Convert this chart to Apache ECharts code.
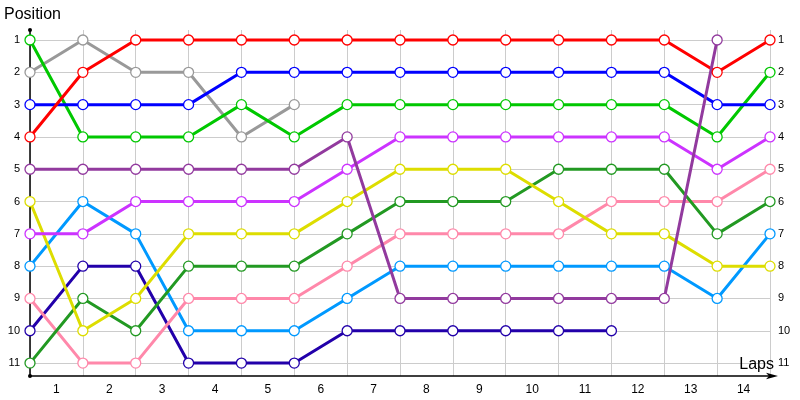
<!DOCTYPE html>
<html><head><meta charset="utf-8">
<script src="https://cdn.jsdelivr.net/npm/echarts@6/dist/echarts.min.js"></script>
<style>html,body{margin:0;padding:0;background:#fff}#c{width:800px;height:400px}</style>
</head><body><div id="c"></div>
<script>
var lapLabels = ['1','2','3','4','5','6','7','8','9','10','11','12','13','14'];
var positionLabels = [1,2,3,4,5,6,7,8,9,10,11];
// positions at each lap boundary (0..14); shorter list = retired
var gray      = [2,1,2,2,4,3];
var navy      = [10,8,8,11,11,11,10,10,10,10,10,10];
var lightBlue = [8,6,7,10,10,10,9,8,8,8,8,8,8,9,7];
var pink      = [9,11,11,9,9,9,8,7,7,7,7,6,6,6,5];
var darkGreen = [11,9,10,8,8,8,7,6,6,6,5,5,5,7,6];
var yellow    = [6,10,9,7,7,7,6,5,5,5,6,7,7,8,8];
var violet    = [7,7,6,6,6,6,5,4,4,4,4,4,4,5,4];
var green     = [1,4,4,4,3,4,3,3,3,3,3,3,3,4,2];
var blue      = [3,3,3,3,2,2,2,2,2,2,2,2,2,3,3];
var red       = [4,2,1,1,1,1,1,1,1,1,1,1,1,2,1];
var purple    = [5,5,5,5,5,5,4,9,9,9,9,9,9,1];

var drivers = [
  {d: gray, c:'#999999'},
  {d: navy, c:'#2200aa'},
  {d: lightBlue, c:'#0099ff'},
  {d: pink, c:'#ff88aa'},
  {d: darkGreen, c:'#229922'},
  {d: yellow, c:'#dddd00'},
  {d: violet, c:'#cc33ff'},
  {d: green, c:'#00c800'},
  {d: blue, c:'#0000ff'},
  {d: red, c:'#ff0000'},
  {d: purple, c:'#923a9e'}
];

var series = drivers.map(function(o){
  return {
    type:'line',
    data:o.d.map(function(v,i){return [i,v];}),
    symbol:'circle', symbolSize:10, showSymbol:true,
    lineStyle:{color:o.c, width:3},
    itemStyle:{color:'#ffffff', borderColor:o.c, borderWidth:1.3},
    emphasis:{disabled:true},
    z:10
  };
});
series.unshift({
  type:'line', data:[], silent:true,
  markLine:{
    silent:true, z:1, symbol:['none','none'], label:{show:false},
    lineStyle:{color:'#cccccc', width:1, type:'solid'},
    emphasis:{disabled:true},
    data: positionLabels.map(function(p){return {yAxis:p};})
  },
  z:1
});

var font = 'Liberation Sans';
var chart = echarts.init(document.getElementById('c'));
chart.setOption({
  animation:false,
  backgroundColor:'#ffffff',
  title:[
    {text:'Position', left:4, top:7, padding:0, textStyle:{fontFamily:font, fontSize:16, fontWeight:'normal', color:'#000'}},
    {text:'Laps', right:26, bottom:27, padding:0, textStyle:{fontFamily:font, fontSize:16, fontWeight:'normal', color:'#000'}}
  ],
  grid:{left:30, right:30, top:30, bottom:24, containLabel:false},
  xAxis:[
    {type:'value', min:0, max:14, interval:1,
     axisLine:{show:true, lineStyle:{color:'#000', width:1.5}, symbol:['none','arrow'], symbolSize:[5,12], symbolOffset:[0,8]},
     axisTick:{show:false}, axisLabel:{show:false},
     splitLine:{show:true, lineStyle:{color:'#cccccc', width:1}}},
    {type:'category', data:lapLabels, boundaryGap:true, position:'bottom',
     axisLine:{show:false}, axisTick:{show:false},
     axisLabel:{margin:8, fontFamily:font, fontSize:12, color:'#000'},
     splitLine:{show:false}}
  ],
  yAxis:[
    {type:'value', inverse:true, min:0.69, max:11.4, position:'left',
     axisLine:{show:true, onZero:false, lineStyle:{color:'#000', width:1.5}, symbol:['circle','circle'], symbolSize:[4,4]},
     axisTick:{show:false},
     axisLabel:{customValues:positionLabels, margin:10, fontFamily:font, fontSize:11, color:'#000'},
     splitLine:{show:false}},
    {type:'value', inverse:true, min:0.69, max:11.4, position:'right',
     axisLine:{show:false}, axisTick:{show:false},
     axisLabel:{customValues:positionLabels, margin:8, fontFamily:font, fontSize:11, color:'#000'},
     splitLine:{show:false}}
  ],
  series:series
});
</script></body></html>
